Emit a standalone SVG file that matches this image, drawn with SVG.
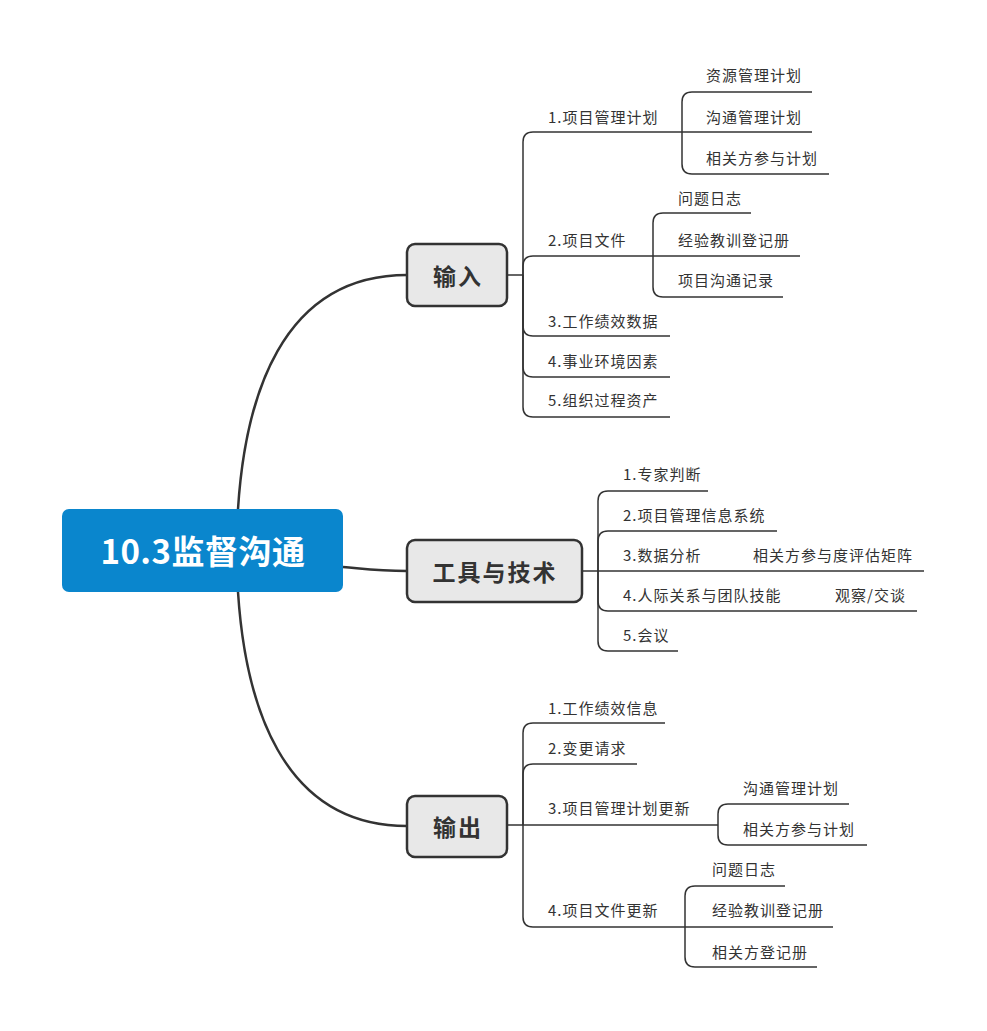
<svg xmlns="http://www.w3.org/2000/svg" width="987" height="1031" viewBox="0 0 987 1031">
<style>
.bg{fill:#ffffff}
.main{fill:none;stroke:#333333;stroke-width:2.5}
.ln{fill:none;stroke:#333333;stroke-width:1.5}
.branch{fill:#e8e8e8;stroke:#333333;stroke-width:2.5}
.bt{font-family:"Noto Sans CJK SC",sans-serif;font-size:23px;font-weight:bold;fill:#333333;text-anchor:middle;dominant-baseline:central;letter-spacing:2px}
.lt{font-family:"Noto Sans CJK SC",sans-serif;font-size:15px;fill:#333333;dominant-baseline:central;letter-spacing:1px}
.ct{font-family:"Noto Sans CJK SC",sans-serif;font-size:33px;font-weight:bold;fill:#ffffff;text-anchor:middle;dominant-baseline:central;letter-spacing:0.5px}
</style>
<rect class="bg" x="0" y="0" width="987" height="1031"/>
<g id="connectors">
<path class="main" d="M238,509 C245,400 280,275 407,275"/>
<path class="main" d="M238,592 C245,700 280,826 407,826"/>
<path class="main" d="M343,567 C375,570 380,571 407,571"/>
<path class="ln" d="M507,275 H523"/>
<path class="ln" d="M523,275 V142 Q523,132 533,132 H682"/>
<path class="ln" d="M523,275 V266 Q523,256 533,256 H653"/>
<path class="ln" d="M523,275 V326 Q523,336 533,336 H670"/>
<path class="ln" d="M523,275 V367 Q523,377 533,377 H670"/>
<path class="ln" d="M523,275 V407 Q523,417 533,417 H670"/>
<path class="ln" d="M682,132 V102 Q682,92 692,92 H812"/>
<path class="ln" d="M682,132 H812"/>
<path class="ln" d="M682,132 V164 Q682,174 692,174 H829"/>
<path class="ln" d="M653,256 V223 Q653,213 663,213 H751"/>
<path class="ln" d="M653,256 H800"/>
<path class="ln" d="M653,256 V287 Q653,297 663,297 H783"/>
<path class="ln" d="M582,571 H598"/>
<path class="ln" d="M598,571 V501 Q598,491 608,491 H708"/>
<path class="ln" d="M598,571 V541 Q598,531 608,531 H777"/>
<path class="ln" d="M598,571 H924"/>
<path class="ln" d="M598,571 V601 Q598,611 608,611 H917"/>
<path class="ln" d="M598,571 V641 Q598,651 608,651 H678"/>
<path class="ln" d="M507,825 H523"/>
<path class="ln" d="M523,825 V733 Q523,723 533,723 H665"/>
<path class="ln" d="M523,825 V774 Q523,764 533,764 H637"/>
<path class="ln" d="M523,825 H718"/>
<path class="ln" d="M523,825 V917 Q523,927 533,927 H685"/>
<path class="ln" d="M718,825 V814 Q718,804 728,804 H849"/>
<path class="ln" d="M718,825 V835 Q718,845 728,845 H867"/>
<path class="ln" d="M685,927 V896 Q685,886 695,886 H785"/>
<path class="ln" d="M685,927 H833"/>
<path class="ln" d="M685,927 V957 Q685,967 695,967 H817"/>
</g>
<g id="central">
<rect x="62" y="509" width="281" height="83" rx="7" fill="#0a86cd"/>
<text class="ct" x="203" y="550">10.3监督沟通</text>
</g>
<g id="input">
<rect class="branch" x="407" y="244" width="100" height="62" rx="8"/>
<text class="bt" x="458" y="275">输入</text>
</g>
<g id="tools">
<rect class="branch" x="407" y="540" width="175" height="62" rx="8"/>
<text class="bt" x="495" y="571">工具与技术</text>
</g>
<g id="output">
<rect class="branch" x="407" y="796" width="100" height="61" rx="8"/>
<text class="bt" x="458" y="826">输出</text>
</g>
<g id="in1"><text class="lt" x="548" y="116">1.项目管理计划</text></g>
<g id="in1a"><text class="lt" x="706" y="74">资源管理计划</text></g>
<g id="in1b"><text class="lt" x="706" y="116">沟通管理计划</text></g>
<g id="in1c"><text class="lt" x="706" y="157">相关方参与计划</text></g>
<g id="in2"><text class="lt" x="548" y="239">2.项目文件</text></g>
<g id="in2a"><text class="lt" x="678" y="197">问题日志</text></g>
<g id="in2b"><text class="lt" x="678" y="239">经验教训登记册</text></g>
<g id="in2c"><text class="lt" x="678" y="279">项目沟通记录</text></g>
<g id="in3"><text class="lt" x="548" y="320">3.工作绩效数据</text></g>
<g id="in4"><text class="lt" x="548" y="360">4.事业环境因素</text></g>
<g id="in5"><text class="lt" x="548" y="399">5.组织过程资产</text></g>
<g id="t1"><text class="lt" x="623" y="473">1.专家判断</text></g>
<g id="t2"><text class="lt" x="623" y="514">2.项目管理信息系统</text></g>
<g id="t3"><text class="lt" x="623" y="554">3.数据分析</text></g>
<g id="t3a"><text class="lt" x="753" y="554">相关方参与度评估矩阵</text></g>
<g id="t4"><text class="lt" x="623" y="594">4.人际关系与团队技能</text></g>
<g id="t4a"><text class="lt" x="835" y="594">观察/交谈</text></g>
<g id="t5"><text class="lt" x="623" y="634">5.会议</text></g>
<g id="o1"><text class="lt" x="548" y="707">1.工作绩效信息</text></g>
<g id="o2"><text class="lt" x="548" y="747">2.变更请求</text></g>
<g id="o3"><text class="lt" x="548" y="807">3.项目管理计划更新</text></g>
<g id="o3a"><text class="lt" x="743" y="787">沟通管理计划</text></g>
<g id="o3b"><text class="lt" x="743" y="828">相关方参与计划</text></g>
<g id="o4"><text class="lt" x="548" y="909">4.项目文件更新</text></g>
<g id="o4a"><text class="lt" x="712" y="868">问题日志</text></g>
<g id="o4b"><text class="lt" x="712" y="909">经验教训登记册</text></g>
<g id="o4c"><text class="lt" x="712" y="951">相关方登记册</text></g>
</svg>
